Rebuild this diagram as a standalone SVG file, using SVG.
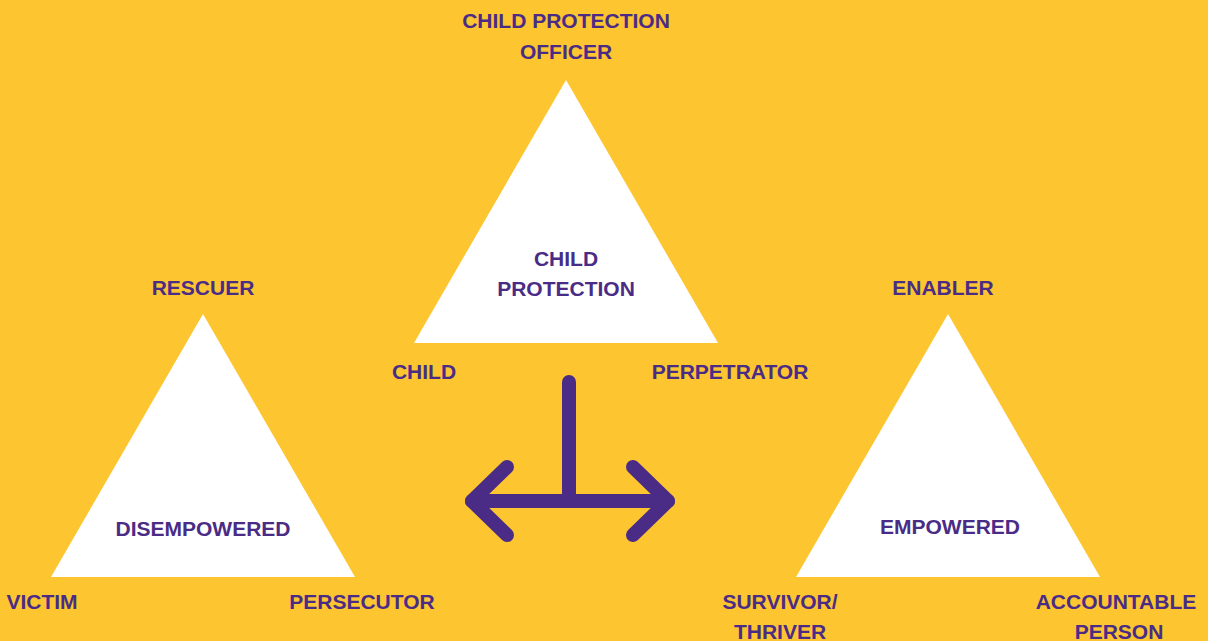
<svg xmlns="http://www.w3.org/2000/svg" width="1208" height="641" viewBox="0 0 1208 641">
<style>
text{font-family:"Liberation Sans",Arial,sans-serif;font-weight:bold;font-size:21px;fill:#4A2C86;text-anchor:middle}
.tri{fill:#FFFFFF}
.arr{fill:none;stroke:#4A2C86;stroke-width:14;stroke-linecap:round;stroke-linejoin:round}
</style>
<rect width="1208" height="641" fill="#FDC52F"/>
<g id="top-triangle">
<polygon class="tri" points="566,80 718,343 414,343"/>
<text x="566" y="266">CHILD</text>
<text x="566" y="296">PROTECTION</text>
<text x="566" y="28">CHILD PROTECTION</text>
<text x="566" y="59">OFFICER</text>
<text x="424" y="379">CHILD</text>
<text x="730" y="379">PERPETRATOR</text>
</g>
<g id="left-triangle">
<polygon class="tri" points="203,314 355,577 51,577"/>
<text x="203" y="536">DISEMPOWERED</text>
<text x="203" y="295">RESCUER</text>
<text x="42" y="609">VICTIM</text>
<text x="362" y="609">PERSECUTOR</text>
</g>
<g id="right-triangle">
<polygon class="tri" points="948,314 1100,577 796,577"/>
<text x="950" y="534">EMPOWERED</text>
<text x="943" y="295">ENABLER</text>
<text x="780" y="609">SURVIVOR/</text>
<text x="780" y="639">THRIVER</text>
<text x="1116" y="609">ACCOUNTABLE</text>
<text x="1119" y="639">PERSON</text>
</g>
<g id="connectors">
<path class="arr" d="M569,382 V501"/>
<path class="arr" d="M472,501 H668"/>
<path class="arr" d="M507,467 L472,501 L507,535"/>
<path class="arr" d="M633,467 L668,501 L633,535"/>
</g>
</svg>
